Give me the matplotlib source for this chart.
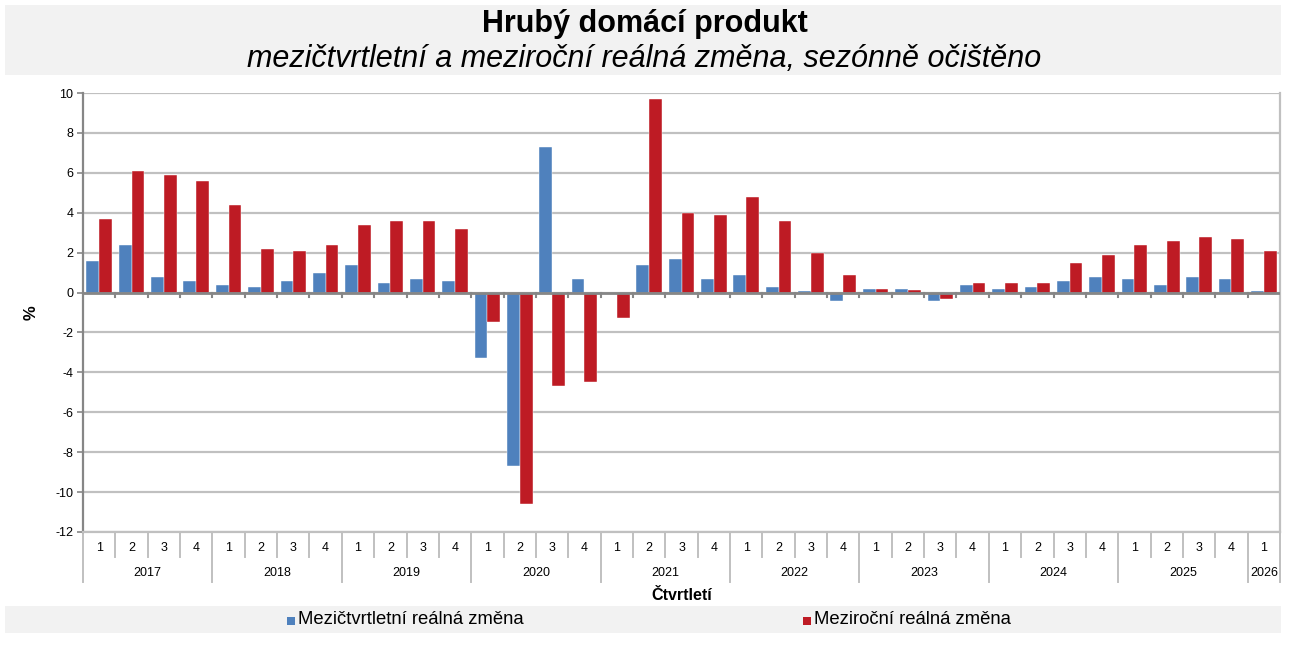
import matplotlib
matplotlib.use("Agg")
import matplotlib.pyplot as plt
from matplotlib.patches import Rectangle
from matplotlib.transforms import blended_transform_factory
import numpy as np

plt.rcParams['font.family'] = ['Liberation Sans', 'DejaVu Sans']
plt.rcParams['axes.unicode_minus'] = False

# data (%)
years = ['2017', '2018', '2019', '2020', '2021', '2022', '2023', '2024', '2025', '2026']
quarters = ['1', '2', '3', '4'] * 9 + ['1']
qoq = [1.6, 2.4, 0.8, 0.6,
       0.4, 0.3, 0.6, 1.0,
       1.4, 0.5, 0.7, 0.6,
       -3.3, -8.7, 7.3, 0.7,
       0.0, 1.4, 1.7, 0.7,
       0.9, 0.3, 0.1, -0.4,
       0.2, 0.2, -0.4, 0.4,
       0.2, 0.3, 0.6, 0.8,
       0.7, 0.4, 0.8, 0.7,
       0.1]
yoy = [3.7, 6.1, 5.9, 5.6,
       4.4, 2.2, 2.1, 2.4,
       3.4, 3.6, 3.6, 3.2,
       -1.5, -10.6, -4.7, -4.5,
       -1.3, 9.7, 4.0, 3.9,
       4.8, 3.6, 2.0, 0.9,
       0.2, 0.15, -0.3, 0.5,
       0.5, 0.5, 1.5, 1.9,
       2.4, 2.6, 2.8, 2.7,
       2.1]
label_qoq = 'Mezičtvrtletní reálná změna'
label_yoy = 'Meziroční reálná změna'

BLUE = '#4f81bd'
RED = '#be1b24'
GRID = '#c0c0c0'
AXIS = '#868686'
BOX = '#f2f2f2'

W, H = 1289, 648
fig = plt.figure(figsize=(W / 100, H / 100), dpi=100)

def fy(py):
    return 1 - py / H

# title box
fig.patches.append(Rectangle((5 / W, fy(75)), 1276 / W, 70 / H, transform=fig.transFigure,
                             facecolor=BOX, edgecolor='none', zorder=0))
fig.text(0.5, fy(24), 'Hrubý domácí produkt', ha='center', va='center',
         fontsize=22, fontweight='bold')
fig.text(0.5, fy(59), 'mezičtvrtletní a meziroční reálná změna, sezónně očištěno',
         ha='center', va='center', fontsize=22, style='italic')

left, right, top, bottom = 83, 1280, 93, 532
ax = fig.add_axes([left / W, fy(bottom), (right - left) / W, (bottom - top) / H])

x = np.arange(len(qoq))
bw = 0.395
ax.bar(x - bw / 2, qoq, width=bw, color=BLUE, edgecolor='white', linewidth=0.3, zorder=3)
ax.bar(x + bw / 2, yoy, width=bw, color=RED, edgecolor='white', linewidth=0.3, zorder=3)

ax.set_xlim(-0.5, len(qoq) - 0.5)
ax.set_ylim(-12, 10)
ax.set_yticks(np.arange(-12, 11, 2))
ax.yaxis.grid(True, color=GRID, linewidth=1.6, zorder=0)
ax.set_axisbelow(True)
ax.set_xticks([])
ax.tick_params(axis='y', labelsize=9, length=4, color=AXIS, width=1.2, pad=3)
ax.spines['top'].set_visible(False)
ax.spines['left'].set_color(AXIS)
ax.spines['left'].set_linewidth(1.6)
ax.spines['right'].set_color(GRID)
ax.spines['right'].set_linewidth(1.6)
ax.spines['bottom'].set_color(GRID)
ax.spines['bottom'].set_linewidth(1.6)
ax.axhline(0, color=AXIS, linewidth=2, zorder=4)
bounds = np.arange(len(qoq) + 1) - 0.5
for b in bounds[1:-1]:
    ax.plot([b, b], [0, -0.22], color=AXIS, linewidth=1.5, zorder=4, clip_on=False)

ax.set_ylabel('%', fontsize=12, fontweight='bold', labelpad=12)

# multi-level category axis
tr = blended_transform_factory(ax.transData, fig.transFigure)
for i, q in enumerate(quarters):
    ax.text(i, fy(548), q, transform=tr, ha='center', va='center', fontsize=9)
for b in bounds:
    i = int(b + 0.5)
    y_end = 582 if (i % 4 == 0 or i == len(qoq)) else 557
    ax.plot([b, b], [fy(bottom), fy(y_end)], transform=tr, color=GRID, linewidth=1.4,
            clip_on=False)
for k, yr in enumerate(years):
    start = k * 4
    end = min(start + 4, len(qoq))
    ax.text((start + end - 1) / 2, fy(573), yr, transform=tr, ha='center', va='center',
            fontsize=9)
fig.text((left + right) / 2 / W, fy(596), 'Čtvrtletí', ha='center', va='center',
         fontsize=11.5, fontweight='bold')

# legend box
fig.patches.append(Rectangle((5 / W, fy(633)), 1276 / W, 27 / H, transform=fig.transFigure,
                             facecolor=BOX, edgecolor='none', zorder=0))
for px, col, lab in [(287, BLUE, label_qoq), (803, RED, label_yoy)]:
    fig.patches.append(Rectangle((px / W, fy(625)), 8 / W, 8 / H, transform=fig.transFigure,
                                 facecolor=col, edgecolor='none'))
    fig.text((px + 11) / W, fy(620), lab, ha='left', va='center', fontsize=13.3)

fig.savefig('out.png', dpi=100)
